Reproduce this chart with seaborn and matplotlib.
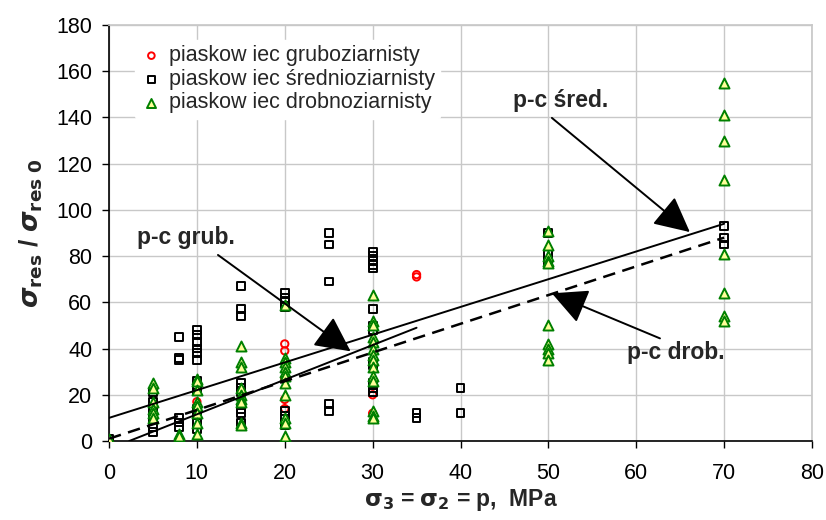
import numpy as np
import pandas as pd
import matplotlib
matplotlib.use("Agg")
import matplotlib.pyplot as plt
import seaborn as sns

# ---- data ----
grub_x = [10, 10, 20, 20, 20, 20, 20, 30, 30, 35, 35]
grub_y = [23, 17, 42, 39, 27, 18, 14, 20, 12, 72, 71]

sred_x = [0,
          5, 5, 5, 5, 5, 5,
          8, 8, 8, 8, 8, 8,
          10, 10, 10, 10, 10, 10, 10, 10, 10, 10, 10, 10, 10,
          15, 15, 15, 15, 15, 15, 15, 15, 15,
          20, 20, 20, 20, 20, 20, 20, 20,
          25, 25, 25, 25, 25,
          30, 30, 30, 30, 30, 30, 30, 30, 30, 30, 30, 30, 30,
          35, 35, 40, 40,
          50, 50, 50,
          70, 70, 70]
sred_y = [1,
          4, 6, 10, 14, 17, 21,
          45, 36, 35, 10, 8, 6,
          48, 46, 43, 40, 38, 35, 26, 24, 22, 14, 12, 8, 5,
          67, 57, 54, 25, 23, 21, 14, 12, 8,
          64, 62, 60, 58, 13, 11, 8, 7,
          90, 85, 69, 16, 13,
          82, 80, 78, 76, 75, 57, 50, 48, 34, 33, 25, 23, 21,
          12, 10, 23, 12,
          90, 81, 78,
          93, 88, 85]

drob_x = [0,
          5, 5, 5, 5, 5, 5,
          8, 8, 8,
          10, 10, 10, 10, 10, 10, 10, 10,
          15, 15, 15, 15, 15, 15, 15, 15, 15,
          20, 20, 20, 20, 20, 20, 20, 20, 20, 20, 20,
          30, 30, 30, 30, 30, 30, 30, 30, 30, 30, 30, 30, 30, 30,
          50, 50, 50, 50, 50, 50, 50, 50, 50, 50,
          70, 70, 70, 70, 70, 70, 70, 70]
drob_y = [1,
          25, 23, 17, 14, 12, 10,
          3, 1, 2,
          27, 26, 22, 17, 15, 12, 8, 3,
          41, 34, 32, 23, 20, 18, 17, 8, 7,
          59, 36, 34, 32, 30, 28, 25, 20, 10, 8, 2,
          63, 52, 50, 45, 43, 40, 37, 35, 32, 28, 26, 13, 11, 10,
          91, 85, 80, 78, 77, 50, 42, 40, 38, 35,
          155, 141, 130, 113, 81, 64, 54, 52]

labels = ["piaskow iec gruboziarnisty",
          "piaskow iec średnioziarnisty",
          "piaskow iec drobnoziarnisty"]

# trend lines (endpoints)
line_sred_x = [0, 70]
line_sred_y = [10, 94]
line_grub_x = [2.3, 35]
line_grub_y = [0, 49]
line_drob_x = [0, 70]
line_drob_y = [1, 88]

# annotation positions (data coords): text, arrow tail, arrow tip
ann_text = ["p-c grub.", "p-c śred.", "p-c drob."]
ann_text_x = [3.2, 46.0, 59.0]
ann_text_y = [88, 147.5, 38.5]
ann_tail_x = [12.4, 50.4, 62.7]
ann_tail_y = [80.5, 139.8, 44.4]
ann_tip_x = [27.5, 66.1, 50.4]
ann_tip_y = [38.8, 90.4, 63.9]

x_ticks = list(range(0, 81, 10))
y_ticks = list(range(0, 181, 20))

# ---- plot ----
sns.set_theme(style="white")
plt.rcParams['font.family'] = ['Liberation Sans', 'DejaVu Sans']
plt.rcParams['mathtext.fontset'] = 'dejavusans'

fig = plt.figure(figsize=(8.26, 5.2), dpi=100)
ax = fig.add_axes([109/826, 1-441/520, (812-109)/826, (441-25)/520])

df_g = pd.DataFrame({"x": grub_x, "y": grub_y})
df_s = pd.DataFrame({"x": sred_x, "y": sred_y})
df_d = pd.DataFrame({"x": drob_x, "y": drob_y})

sns.scatterplot(data=df_g, x="x", y="y", ax=ax, marker="o", s=28,
                facecolor="none", edgecolor="#ff0000", linewidth=1.4,
                label=labels[0], zorder=3)
sns.scatterplot(data=df_s, x="x", y="y", ax=ax, marker="s", s=32,
                facecolor="none", edgecolor="black", linewidth=1.4,
                label=labels[1], zorder=3)
sns.scatterplot(data=df_d, x="x", y="y", ax=ax, marker="^", s=52,
                facecolor="#ffff99", edgecolor="#008000", linewidth=1.4,
                label=labels[2], zorder=4)

ax.plot(line_sred_x, line_sred_y, color="black", lw=1.4, zorder=5)
ax.plot(line_grub_x, line_grub_y, color="black", lw=1.4, zorder=5)
ax.plot(line_drob_x, line_drob_y, color="black", lw=1.8, ls=(0, (5, 3)), zorder=5)

for t, tx, ty, ax0, ay0, ax1, ay1 in zip(ann_text, ann_text_x, ann_text_y,
                                         ann_tail_x, ann_tail_y,
                                         ann_tip_x, ann_tip_y):
    ax.annotate("", xy=(ax1, ay1), xytext=(ax0, ay0),
                arrowprops=dict(arrowstyle="-|>,head_length=1.1,head_width=0.55",
                                mutation_scale=20, color="black", lw=1.4,
                                shrinkA=0, shrinkB=0), zorder=6)
    ax.text(tx, ty, t, fontsize=16.5, fontweight="bold", ha="left", va="center",
            zorder=6)

ax.set_xlim(0, 80)
ax.set_ylim(0, 180)
ax.set_xticks(x_ticks)
ax.set_yticks(y_ticks)
ax.tick_params(axis="both", labelsize=15.5, length=5, width=1, direction="out",
               colors="black", pad=7)
ax.tick_params(axis="x", pad=11)
ax.xaxis.set_ticks_position("bottom")
ax.yaxis.set_ticks_position("left")
ax.grid(True, color="#c8c8c8", lw=1)
ax.set_axisbelow(True)
for side in ["top", "right"]:
    ax.spines[side].set_color("#c8c8c8")
for side in ["left", "bottom"]:
    ax.spines[side].set_color("black")
    ax.spines[side].set_linewidth(1.2)

ax.set_xlabel(r"$\mathbf{\sigma_3}$ = $\mathbf{\sigma_2}$ = p,  MPa",
              fontsize=16.5, fontweight="bold", labelpad=2)
ax.set_ylabel(r"$\boldsymbol{\sigma}_{\mathbf{res}}$ / $\boldsymbol{\sigma}_{\mathbf{res\ 0}}$",
              fontsize=19, fontweight="bold", labelpad=8)

leg = ax.legend(loc="upper left", bbox_to_anchor=(0.022, 0.99), frameon=True,
                fontsize=15.5, handletextpad=0.3, borderpad=0.25,
                labelspacing=0.12, markerscale=0.9, handlelength=1.0)
leg.get_frame().set_facecolor("white")
leg.get_frame().set_edgecolor("white")
leg.get_frame().set_alpha(1)

fig.savefig("out.png", dpi=100)
